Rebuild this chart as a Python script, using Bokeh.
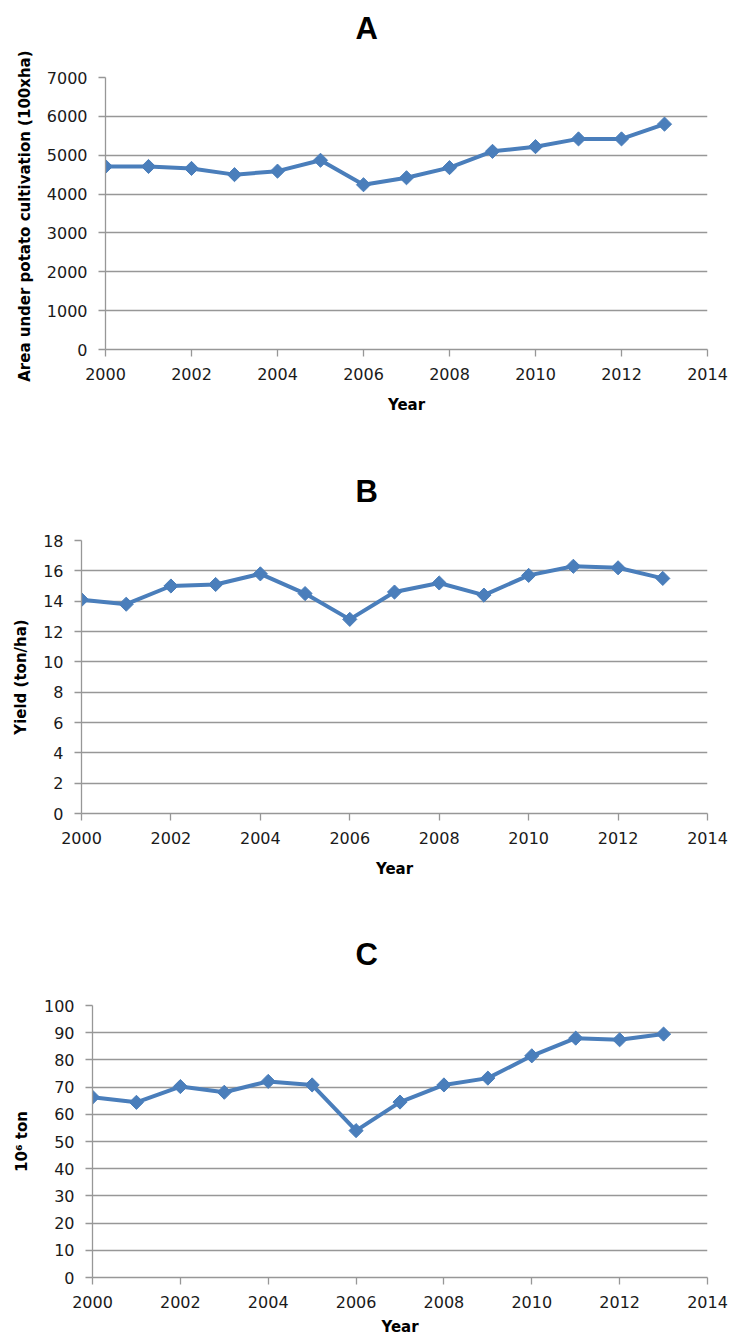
from bokeh.plotting import figure
from bokeh.models import Range1d, FixedTicker, Title, LinearAxis
from bokeh.embed import file_html
from bokeh.resources import INLINE
import math

years = [2000, 2001, 2002, 2003, 2004, 2005, 2006, 2007, 2008, 2009, 2010, 2011, 2012, 2013]
area = [4710, 4710, 4660, 4500, 4590, 4870, 4240, 4420, 4680, 5100, 5220, 5420, 5420, 5800]
yield_t = [14.1, 13.8, 15.0, 15.1, 15.8, 14.5, 12.8, 14.6, 15.2, 14.4, 15.7, 16.3, 16.2, 15.5]
production = [66.3, 64.4, 70.2, 68.1, 72.1, 70.8, 54.0, 64.5, 70.8, 73.3, 81.5, 88.0, 87.4, 89.5]

x_ticks = [2000, 2002, 2004, 2006, 2008, 2010, 2012, 2014]
titles = ["A", "B", "C"]
y_labels = ["Area under potato cultivation  (100xha)", "Yield (ton/ha)", "10\u2076 ton"]
x_label = "Year"

BLUE = "#4a7ebb"
GRID = "#979797"
FIG_W = 732
FRAME_RIGHT = 707


def panel(title, ylabel, ys, ymax, ystep, left, top, height, frame_h, xstand, t_standoff, gap):
    right = FIG_W - FRAME_RIGHT
    bottom = height - top - frame_h
    p = figure(width=FIG_W, height=height, output_backend="svg", toolbar_location=None,
               x_range=Range1d(2000, 2014), y_range=Range1d(0, ymax),
               min_border_left=left, min_border_right=right,
               min_border_top=top, min_border_bottom=bottom)
    p.outline_line_color = None
    p.xgrid.grid_line_color = None
    p.ygrid.grid_line_color = GRID
    p.ygrid.grid_line_width = 1.3
    p.xaxis.ticker = FixedTicker(ticks=x_ticks)
    p.yaxis.ticker = FixedTicker(ticks=list(range(0, int(ymax) + 1, ystep)))
    for ax in (p.xaxis[0], p.yaxis[0]):
        ax.axis_line_color = GRID
        ax.axis_line_width = 1.3
        ax.major_tick_line_color = GRID
        ax.major_tick_line_width = 1.3
        ax.major_tick_out = 7
        ax.major_tick_in = 0
        ax.minor_tick_line_color = None
        ax.major_label_text_font = "DejaVu Sans"
        ax.major_label_text_font_size = "16px"
        ax.major_label_text_color = "#1a1a1a"
        ax.major_label_standoff = 11
        ax.axis_label_text_font = "DejaVu Sans"
        ax.axis_label_text_font_style = "bold"
        ax.axis_label_text_font_size = "15px"
        ax.axis_label_text_color = "#000000"
    p.xaxis.axis_label = x_label
    p.xaxis.axis_label_standoff = xstand
    p.yaxis.axis_label = ylabel
    p.yaxis.axis_label_standoff = 10

    # blank band between the frame and the panel letter (nearest the frame)
    spacer = LinearAxis(ticker=FixedTicker(ticks=[2000]), major_tick_out=gap, major_tick_in=0,
                        major_tick_line_color="white", minor_tick_line_color=None,
                        minor_tick_out=0, axis_line_color=None, major_label_standoff=0,
                        major_label_text_color=None)
    p.add_layout(spacer, "above")
    p.add_layout(Title(text=title, align="left", offset=355 - left, vertical_align="middle",
                       standoff=t_standoff, text_font="Liberation Sans", text_font_style="bold",
                       text_font_size="31px", text_color="#000000"), "above")

    p.line(years, ys, line_color=BLUE, line_width=4)
    p.scatter(years, ys, marker="square", angle=math.pi / 4, size=10,
              fill_color=BLUE, line_color=BLUE)
    return p


pa = panel(titles[0], y_labels[0], area, 7000, 1000, left=105, top=77, height=470, frame_h=272,
           xstand=13, t_standoff=18, gap=22)
pb = panel(titles[1], y_labels[1], yield_t, 18, 2, left=81, top=70, height=465, frame_h=273,
           xstand=13, t_standoff=4, gap=29)
pc = panel(titles[2], y_labels[2], production, 100, 10, left=92, top=70, height=409, frame_h=272,
           xstand=7, t_standoff=0, gap=33)

open("out.html", "w").write(file_html([pa, pb, pc], INLINE))
